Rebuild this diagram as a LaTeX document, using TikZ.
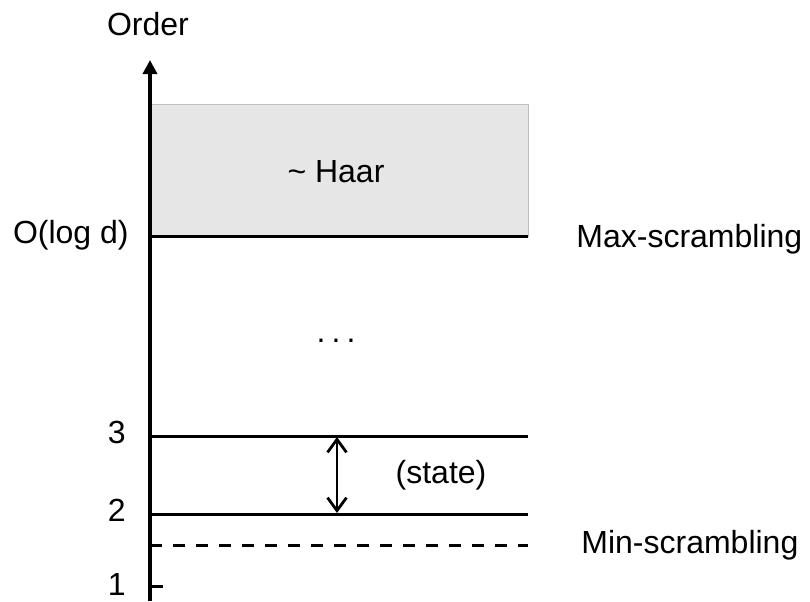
\documentclass[tikz,border=0pt]{standalone}
\usepackage{fontspec}
\setmainfont{Liberation Sans}
\usetikzlibrary{arrows.meta}
\begin{document}
\begin{tikzpicture}[x=0.5pt,y=-0.5pt,
  lbl/.style={inner sep=0pt,font=\fontsize{16}{19}\selectfont},
  level/.style={line width=1.5pt},
  axisline/.style={line width=1.75pt,-{Triangle[length=7pt,width=7pt]}},
  dashlevel/.style={line width=1.5pt,dash pattern=on 6pt off 5.5pt},
  gap/.style={line width=1.4pt,{Straight Barb[length=6.5pt,width=9.5pt,line width=1.4pt]}-{Straight Barb[length=6.5pt,width=9.5pt,line width=1.4pt]}}]
\useasboundingbox (0,0) rectangle (810,601);
% coordinates
\coordinate (axb) at (150,601);
\coordinate (axt) at (150,60);
\coordinate (hl) at (150,236);
\coordinate (hr) at (528,236);
\coordinate (l3l) at (150,436);
\coordinate (l3r) at (528,436);
\coordinate (l2l) at (150,514);
\coordinate (l2r) at (528,514);
\coordinate (dl) at (150,545);
\coordinate (dr) at (528,545);
\coordinate (t1l) at (150,586);
\coordinate (t1r) at (163,586);
\coordinate (a3) at (337,437);
\coordinate (a2) at (337,513);
% haar box
\path[fill={rgb,255:red,230;green,230;blue,230},draw={rgb,255:red,190;green,190;blue,190},line width=0.5pt] (151,104) rectangle (528,236);
\node[lbl,anchor=base] (haar) at (336,182) {\char"007E\ Haar};
% levels
\draw[level] (hl) -- (hr);
\draw[level] (l3l) -- (l3r);
\draw[level] (l2l) -- (l2r);
\draw[dashlevel] (dl) -- (dr);
\draw[level] (t1l) -- (t1r);
% axis
\draw[axisline] (axb) -- (axt);
% double arrow
\draw[gap] (a3) -- (a2);
% labels
\node[lbl,anchor=base] (order) at (148,35) {Order};
\node[lbl,anchor=base east] (olog) at (129,243) {O(log d)};
\node[lbl,anchor=base west] (maxs) at (576,247) {Max-scrambling};
\node[lbl,anchor=base] (dots) at (336,342) {.\hspace{0.19em}.\hspace{0.19em}.};
\node[lbl,anchor=base east] (n3) at (126,443) {3};
\node[lbl,anchor=base east] (n2) at (126,521) {2};
\node[lbl,anchor=base east] (n1) at (126,595) {1};
\node[lbl,anchor=base] (state) at (441,483) {(state)};
\node[lbl,anchor=base west] (mins) at (581,553) {Min-scrambling};
\end{tikzpicture}
\end{document}
